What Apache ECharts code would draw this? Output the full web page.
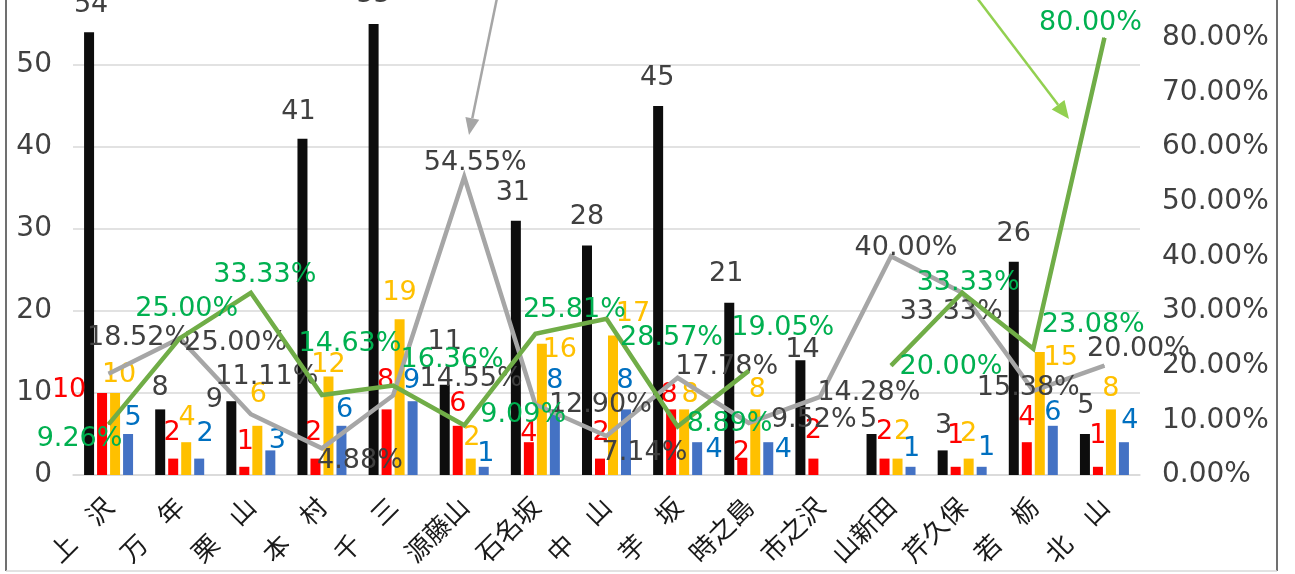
<!DOCTYPE html>
<html><head><meta charset="utf-8">
<script src="https://cdn.jsdelivr.net/npm/echarts@6/dist/echarts.min.js"></script>
<style>html,body{margin:0;padding:0;background:#fff}#c{width:1295px;height:574px}</style>
</head><body><div id="c"></div><script>
// ---- data ----
const categories = ['上　沢','万　年','栗　山','本　村','千　三','源藤山','石名坂','中　山','芋　坂','時之島','市之沢','山新田','芹久保','若　栃','北　山'];
const totalCount  = [54, 8, 9, 41, 55, 11, 31, 28, 45, 21, 14, 5, 3, 26, 5];
const redCount    = [10, 2, 1, 2, 8, 6, 4, 2, 8, 2, 2, 2, 1, 4, 1];
const yellowCount = [10, 4, 6, 12, 19, 2, 16, 17, 8, 8, null, 2, 2, 15, 8];
const blueCount   = [5, 2, 3, 6, 9, 1, 8, 8, 4, 4, null, 1, 1, 6, 4];
const grayRate    = [0.1852, 0.2500, 0.1111, 0.0488, 0.1455, 0.5455, 0.1290, 0.0714, 0.1778, 0.0952, 0.1428, 0.4000, 0.3333, 0.1538, 0.2000];
const greenRate   = [0.0926, 0.2500, 0.3333, 0.1463, 0.1636, 0.0909, 0.2581, 0.2857, 0.0889, 0.1905, null, 0.2000, 0.3333, 0.2308, 0.8000];
const leftAxis  = {min: 0, max: 60, interval: 10};
const rightAxis = {min: 0, max: 0.9, interval: 0.1};

// ---- label placement (styling, px offsets from each mark's anchor) ----
const offBlack  = [[2,-27],[0,-21],[-17,-1],[-4,-27],[0,-29],[0,-43],[-3,-28],[0,-28],[-1,-28],[-3,-29],[2,-10],[-3,-14],[1,-24],[0,-28],[1,-28]];
const offRed    = [[-33,-3],[-1,-26],[1,-25],[-2,-26],[-1,-28],[0,-22],[0,-8],[1,-26],[-2,-14],[-1,-6],[0,-28],[0,-27],[0,-31],[0,-24],[0,-31]];
const offYellow = [[4,-18],[1,-24],[1,-31],[0,-12],[0,-26],[1,-21],[18,6],[20,-22],[6,-14],[2,-19],[0,0],[5,-27],[0,-25],[21,6],[0,-20]];
const offBlue   = [[5,-16],[6,-25],[7,-9],[3,-16],[-1,-20],[2,-13],[0,-28],[-1,-28],[17,8],[15,8],[0,0],[1,-18],[5,-19],[0,-13],[6,-21]];
const offGray   = [[30,-35],[56,5],[16,-37],[38,13],[78,-16],[11,-13],[65,1],[38,18],[49,-10],[65,-2],[49,-3],[15,-8],[-11,20],[-5,-2],[34,-16]];
const offGreen  = [[-29,15],[7,-29],[14,-17],[28,-51],[59,-25],[59,-10],[39,-23],[65,20],[52,-2],[34,-42],[0,0],[60,2],[6,-9],[60,-23],[-14,-14]];

const NUMFONT = 'DejaVu Sans';
function barSeries(name, vals, color, labelColor, offs) {
  return {
    type: 'bar', name, barWidth: 10, barGap: '30%', z: 2,
    itemStyle: {color},
    label: {show: true, position: 'top', distance: 0, align: 'center', verticalAlign: 'middle',
      color: labelColor, fontSize: 27, lineHeight: 27, fontFamily: NUMFONT},
    data: vals.map((v, i) => v == null ? '-' : {value: v, label: {offset: offs[i]}})
  };
}
function lineSeries(name, vals, color, labelColor, offs, z) {
  return {
    type: 'line', name, yAxisIndex: 1, z, connectNulls: false,
    symbol: 'circle', symbolSize: 1, showSymbol: true, showAllSymbol: true,
    lineStyle: {color, width: 4.5, join: 'miter', cap: 'butt'},
    itemStyle: {color},
    label: {show: true, position: 'top', distance: 0, align: 'center', verticalAlign: 'middle',
      color: labelColor, fontSize: 27, lineHeight: 27, fontFamily: NUMFONT,
      formatter: p => (p.value * 100).toFixed(2) + '%'},
    data: vals.map((v, i) => v == null ? '-' : {value: v, label: {offset: offs[i]}})
  };
}

const chart = echarts.init(document.getElementById('c'), null, {renderer: 'canvas'});
chart.setOption({
  backgroundColor: '#ffffff',
  animation: false,
  grid: {left: 73, right: 155, top: -17, bottom: 99, containLabel: false, outerBoundsMode: 'none'},
  xAxis: {
    type: 'category', data: categories,
    axisLine: {show: true, lineStyle: {color: '#d9d9d9', width: 1.5}},
    axisTick: {show: false},
    axisLabel: {interval: 0, rotate: 45, margin: 27, fontSize: 26, color: '#1a1a1a', fontFamily: 'Noto Sans CJK JP'}
  },
  yAxis: [
    {type: 'value', min: leftAxis.min, max: leftAxis.max, interval: leftAxis.interval,
      axisLine: {show: false}, axisTick: {show: false},
      axisLabel: {margin: 21, fontSize: 28, color: '#404040', fontFamily: NUMFONT},
      splitLine: {show: true, lineStyle: {color: '#d9d9d9', width: 1.5}}},
    {type: 'value', min: rightAxis.min, max: rightAxis.max, interval: rightAxis.interval,
      axisLine: {show: false}, axisTick: {show: false},
      axisLabel: {margin: 22, fontSize: 28, color: '#404040', fontFamily: NUMFONT,
        formatter: v => (v * 100).toFixed(2) + '%'},
      splitLine: {show: false}}
  ],
  series: [
    barSeries('計', totalCount, '#0d0d0d', '#404040', offBlack),
    barSeries('赤', redCount, '#ff0000', '#ff0000', offRed),
    barSeries('黄', yellowCount, '#ffc000', '#ffc000', offYellow),
    barSeries('青', blueCount, '#4472c4', '#0070c0', offBlue),
    lineSeries('割合1', grayRate, '#a6a6a6', '#404040', offGray, 3),
    lineSeries('割合2', greenRate, '#70ad47', '#00b050', offGreen, 4)
  ],
  graphic: [
    // chart frame
    {type: 'line', shape: {x1: 6, y1: 0, x2: 6, y2: 571}, style: {stroke: '#404040', lineWidth: 1.5}, silent: true},
    {type: 'line', shape: {x1: 1277, y1: 0, x2: 1277, y2: 571}, style: {stroke: '#404040', lineWidth: 1.5}, silent: true},
    {type: 'line', shape: {x1: 6, y1: 571, x2: 1277, y2: 571}, style: {stroke: '#d9d9d9', lineWidth: 1.5}, silent: true},
    // gray callout arrow
    {type: 'line', shape: {x1: 497, y1: -2, x2: 472.3, y2: 118.3}, style: {stroke: '#a6a6a6', lineWidth: 2.5}, silent: true, z: 10},
    {type: 'polygon', shape: {points: [[469, 135], [479.2, 119.7], [465.4, 116.9]]}, style: {fill: '#a6a6a6'}, silent: true, z: 10},
    // green callout arrow
    {type: 'line', shape: {x1: 977, y1: -2, x2: 1058.1, y2: 104.7}, style: {stroke: '#92d050', lineWidth: 2.5}, silent: true, z: 10},
    {type: 'polygon', shape: {points: [[1069, 119], [1064.5, 99.9], [1051.7, 109.5]]}, style: {fill: '#92d050'}, silent: true, z: 10}
  ]
});
</script></body></html>
